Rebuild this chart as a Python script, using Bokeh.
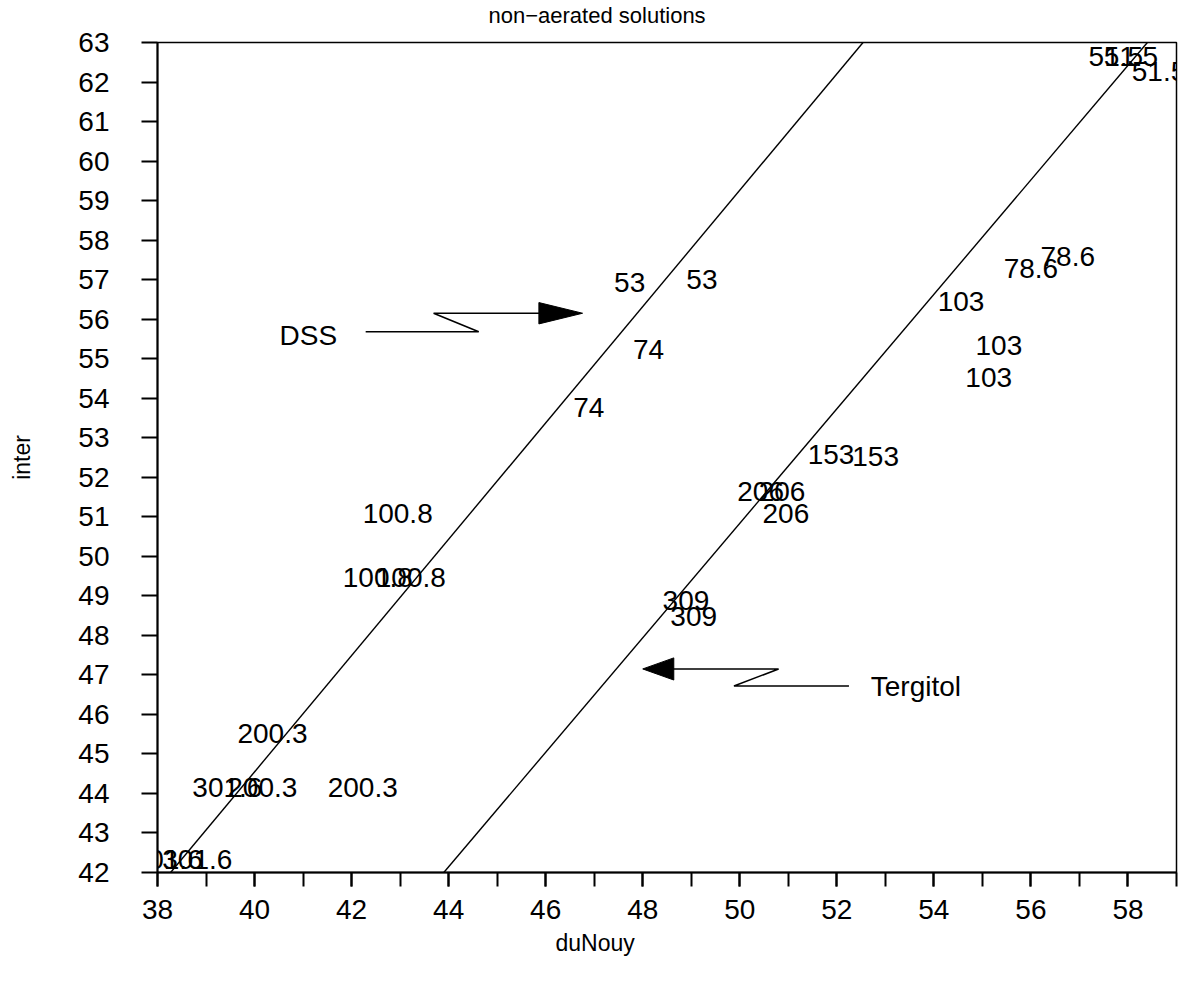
from bokeh.plotting import figure
from bokeh.models import Range1d, FixedTicker, LabelSet, ColumnDataSource, Title
from bokeh.core.properties import value
from bokeh.embed import file_html
from bokeh.resources import INLINE

# ---- data ----
x_ticks = [38, 40, 42, 44, 46, 48, 50, 52, 54, 56, 58]
x_minor = list(range(38, 60))
y_ticks = list(range(42, 64))

# regression lines
dss_line_x = [38.27, 52.54]
dss_line_y = [42.0, 63.0]
terg_line_x = [43.90, 58.40]
terg_line_y = [42.0, 63.0]

# DSS point labels (concentration)
dss_text = ["53", "53", "74", "74", "100.8", "100.8", "100.8",
            "200.3", "200.3", "200.3", "301.6", "301.6", "301.6"]
dss_x = [47.73, 49.22, 48.12, 46.89, 42.95, 42.54, 43.22,
         40.37, 40.16, 42.23, 39.44, 38.21, 38.82]
dss_y = [56.92, 57.00, 55.23, 53.76, 51.08, 49.46, 49.46,
         45.51, 44.16, 44.16, 44.16, 42.34, 42.34]

# Tergitol point labels (concentration)
terg_text = ["51.5", "51.5", "51.5", "78.6", "78.6", "103", "103", "103",
             "153", "153", "206", "206", "206", "309", "309"]
terg_x = [57.75, 58.06, 58.64, 56.00, 56.76, 54.56, 55.34, 55.13,
          51.88, 52.80, 50.43, 50.87, 50.95, 48.89, 49.05]
terg_y = [62.65, 62.65, 62.27, 57.28, 57.58, 56.44, 55.33, 54.52,
          52.57, 52.52, 51.63, 51.63, 51.08, 48.87, 48.47]

# annotation arrows
dss_arrow_x = [42.29, 44.62, 43.69, 45.90]
dss_arrow_y = [55.68, 55.68, 56.15, 56.15]
dss_head_x = [45.86, 45.86, 46.76]
dss_head_y = [56.42, 55.88, 56.15]
terg_arrow_x = [52.25, 49.88, 50.80, 48.62]
terg_arrow_y = [46.72, 46.72, 47.15, 47.15]
terg_head_x = [48.64, 48.64, 48.00]
terg_head_y = [47.43, 46.87, 47.15]
name_text = ["DSS", "Tergitol"]
name_x = [41.11, 53.63]
name_y = [55.58, 46.70]

FONT = "Liberation Sans"

p = figure(width=1186, height=980,
           x_range=Range1d(38, 59), y_range=Range1d(42, 63),
           output_backend="svg", toolbar_location=None,
           min_border_left=157, min_border_right=10,
           min_border_top=42, min_border_bottom=108)
p.background_fill_color = "white"
p.border_fill_color = "white"
p.outline_line_color = "black"
p.outline_line_width = 1.5
p.xgrid.visible = False
p.ygrid.visible = False

p.xaxis.ticker = FixedTicker(ticks=x_ticks, minor_ticks=x_minor)
p.yaxis.ticker = FixedTicker(ticks=y_ticks)
for ax in (p.xaxis, p.yaxis):
    ax.axis_line_color = "black"
    ax.axis_line_width = 2
    ax.major_tick_line_color = "black"
    ax.major_tick_line_width = 2
    ax.minor_tick_line_color = "black"
    ax.minor_tick_line_width = 2
    ax.major_tick_in = 0
    ax.minor_tick_in = 0
    ax.major_label_text_font = FONT
    ax.major_label_text_font_size = "28px"
    ax.major_label_text_color = "black"
    ax.axis_label_text_font = FONT
    ax.axis_label_text_font_size = "23px"
    ax.axis_label_text_font_style = "normal"
    ax.axis_label_text_color = "black"
p.yaxis.minor_tick_line_color = None
p.xaxis.major_tick_out = 14
p.xaxis.minor_tick_out = 14
p.yaxis.major_tick_out = 16
p.xaxis.major_label_standoff = 13
p.yaxis.major_label_standoff = 32
p.yaxis.axis_label = "inter"
p.yaxis.axis_label_standoff = 40

# spacer panel between the frame and the title (pushes the title upward)
p.add_layout(Title(text=" ", text_font_size="1px", standoff=9), "above")
p.add_layout(Title(text="non\u2212aerated solutions", align="left", offset=331,
                   vertical_align="top",
                   text_font=FONT, text_font_size="22px",
                   text_font_style="normal", text_color="black",
                   standoff=2), "above")
p.add_layout(Title(text="duNouy", align="left", offset=398,
                   text_font=FONT, text_font_size="23px",
                   text_font_style="normal", text_color="black",
                   standoff=12), "below")

p.line(dss_line_x, dss_line_y, line_color="black", line_width=1.4)
p.line(terg_line_x, terg_line_y, line_color="black", line_width=1.4)

p.line(dss_arrow_x, dss_arrow_y, line_color="black", line_width=1.6)
p.patch(dss_head_x, dss_head_y, fill_color="black", line_color="black")
p.line(terg_arrow_x, terg_arrow_y, line_color="black", line_width=1.6)
p.patch(terg_head_x, terg_head_y, fill_color="black", line_color="black")

for tx, xx, yy in ((dss_text, dss_x, dss_y), (terg_text, terg_x, terg_y),
                   (name_text, name_x, name_y)):
    src = ColumnDataSource(dict(x=xx, y=yy, text=tx))
    p.add_layout(LabelSet(source=src, x="x", y="y", text="text",
                          text_align="center", text_baseline="middle",
                          text_font=value(FONT), text_font_size="28px",
                          text_color="black"))

open("out.html", "w").write(file_html(p, INLINE))
